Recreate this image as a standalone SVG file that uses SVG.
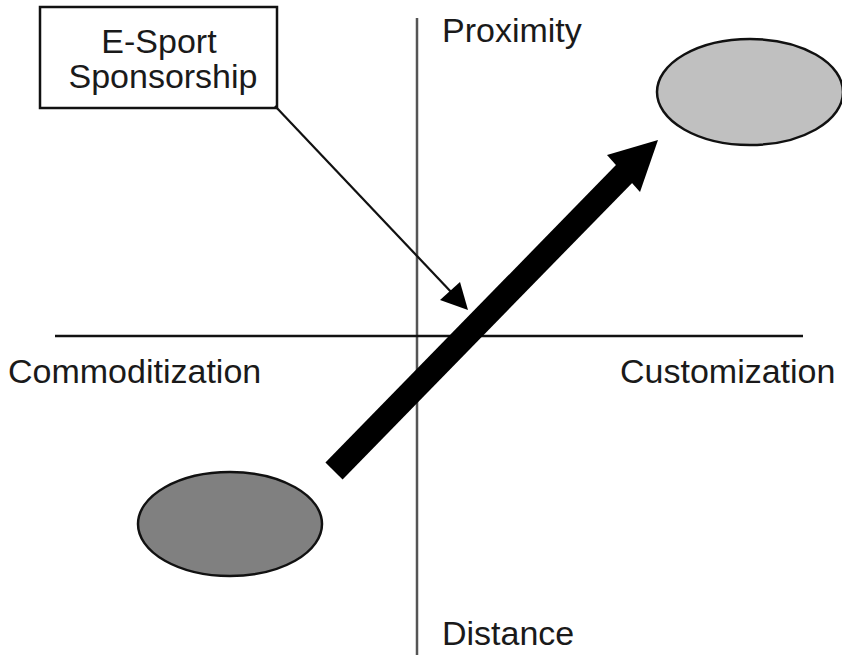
<svg xmlns="http://www.w3.org/2000/svg" width="842" height="655" viewBox="0 0 842 655">
<style>
text{font-family:"Liberation Sans",Arial,sans-serif;font-size:34px;fill:#1a1a1a}
.ax{stroke-width:2.5;fill:none}
</style>
<rect width="842" height="655" fill="#fff"/>
<g id="axes">
<line class="ax" x1="417" y1="18" x2="417" y2="655" stroke="#555"/>
<line class="ax" x1="55" y1="336" x2="803" y2="336" stroke="#111" stroke-width="2"/>
<text x="442" y="42">Proximity</text>
<text x="442" y="645">Distance</text>
<text x="8" y="383">Commoditization</text>
<text x="620" y="383">Customization</text>
</g>
<g id="low-ellipse"><ellipse cx="230" cy="524" rx="92" ry="52" fill="#808080" stroke="#111" stroke-width="2.5"/></g>
<g id="high-ellipse"><ellipse cx="750" cy="92" rx="93" ry="53" fill="#c0c0c0" stroke="#111" stroke-width="2.5"/></g>
<g id="label-box">
<rect x="40" y="7" width="237" height="101" fill="#fff" stroke="#111" stroke-width="2.5"/>
<text x="159" y="53" text-anchor="middle">E-Sport</text>
<text x="163" y="88" text-anchor="middle">Sponsorship</text>
</g>
<g id="connectors">
<line x1="275" y1="106" x2="453" y2="294" stroke="#111" stroke-width="2.2"/>
<polygon points="468,310 440,300 460,282" fill="#000"/>
<line x1="334" y1="471" x2="626" y2="172" stroke="#000" stroke-width="24"/>
<polygon points="658,140 607,155 640,192" fill="#000"/>
</g>
</svg>
